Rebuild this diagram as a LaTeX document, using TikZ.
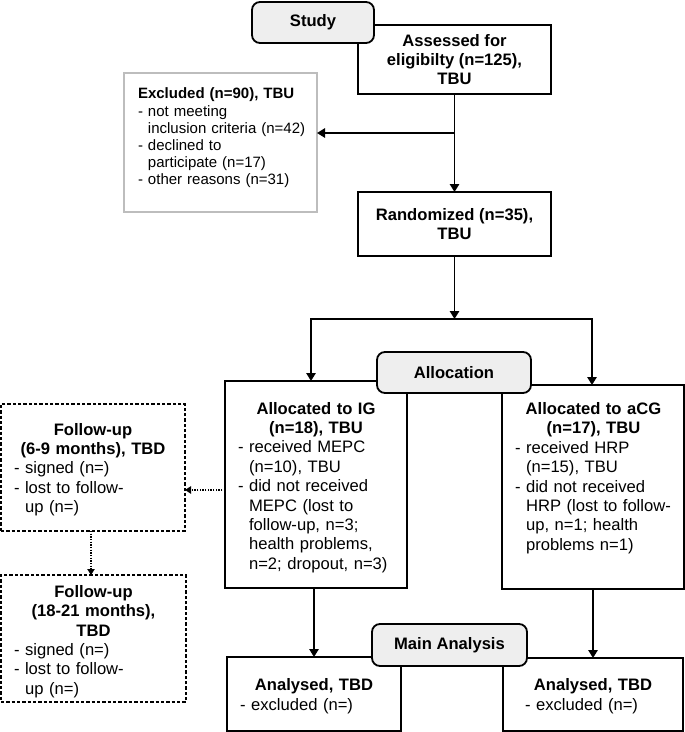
\documentclass[tikz,border=0pt]{standalone}
\usepackage{fontspec}
\setmainfont{Liberation Sans}
\usetikzlibrary{arrows.meta,positioning}
\definecolor{phasegray}{HTML}{EEEEEE}
\definecolor{softgray}{HTML}{BDBDBD}
\newcommand{\cont}{\hphantom{- }}

\begin{document}
\begin{tikzpicture}[x=0.75pt,y=-0.75pt]
    % Styles
    \tikzset{box/.style={draw, line width=1.35pt, inner sep=0pt, outer sep=0pt, align=center, font=\fontsize{12.45}{14.55}\selectfont\bfseries}}
    \tikzstyle{phase}=[box, fill=phasegray, rounded corners=6pt]
    \tikzstyle{exbox}=[box, draw=softgray]
    \tikzstyle{fubox}=[box, line width=1.2pt, dash pattern=on 2.5pt off 1.5pt]
    \tikzstyle{txt}=[inner sep=0pt, outer sep=0pt, anchor=base west, align=left, font=\fontsize{12.45}{14.55}\selectfont]
    \tikzstyle{flow}=[-{Triangle[length=6pt,width=7pt]}, line width=1.35pt]
    \tikzstyle{dotflow}=[-{Triangle[length=4.5pt,width=5.5pt]}, line width=1pt, densely dotted]

    \useasboundingbox (0,0) rectangle (685,732);

    % Enrollment
    \node[box, minimum width=144.75pt, minimum height=51.75pt] (assess) at (454.5,59.5) {Assessed for\\eligibilty (n=125),\\TBU};
    \node[phase, minimum width=91.5pt, minimum height=30.75pt] (study) at (313,22.5) {Study};
    \node[exbox, minimum width=144.75pt, minimum height=104.25pt] (excl) at (220.5,142.5) {};
    \node[box, minimum width=144.75pt, minimum height=48pt] (rand) at (454.5,224) {Randomized (n=35),\\TBU};

    \node[txt, text width=127.5pt, font=\fontsize{11.25}{12.9}\selectfont] (excltext) at (138,98.8) {{\bfseries Excluded (n=90), TBU\par}- not meeting\\\cont inclusion criteria (n=42)\\- declined to\\\cont participate (n=17)\\- other reasons (n=31)};

    % Allocation
    \node[box, minimum width=136.5pt, minimum height=155.25pt] (ig) at (316,484.5) {};
    \node[box, minimum width=136.5pt, minimum height=153pt] (acg) at (593,487) {};
    \node[phase, minimum width=115.5pt, minimum height=30.75pt] (alloc) at (454,372.5) {Allocation};

    \node[txt, text width=117pt] (igtext) at (238,414) {{\centering\bfseries Allocated to IG\\(n=18), TBU\par}- received MEPC\\\cont (n=10), TBU\\- did not received\\\cont MEPC (lost to\\\cont follow-up, n=3;\\\cont health problems,\\\cont n=2; dropout, n=3)};
    \node[txt, text width=117.75pt] (acgtext) at (515,414.5) {{\centering\bfseries Allocated to aCG\\(n=17), TBU\par}- received HRP\\\cont (n=15), TBU\\- did not received\\\cont HRP (lost to follow-\\\cont up, n=1; health\\\cont problems n=1)};

    % Follow-up
    \node[fubox, minimum width=138pt, minimum height=95.25pt] (fu1) at (93,467.5) {};
    \node[fubox, minimum width=138.75pt, minimum height=95.25pt] (fu2) at (93.5,638.5) {};
    \node[txt, text width=118.5pt] (fu1text) at (14,435) {{\centering\bfseries Follow-up\\(6-9 months), TBD\par}- signed (n=)\\- lost to follow-\\\cont up (n=)};
    \node[txt, text width=119.25pt] (fu2text) at (14,597.3) {{\centering\bfseries Follow-up\\(18-21 months),\\TBD\par}- signed (n=)\\- lost to follow-\\\cont up (n=)};

    % Analysis
    \node[box, minimum width=130.5pt, minimum height=55.5pt] (anig) at (314,694) {};
    \node[box, minimum width=135pt, minimum height=54.75pt] (anacg) at (593,694.5) {};
    \node[phase, minimum width=116.25pt, minimum height=31.5pt] (main) at (449.5,645) {Main Analysis};
    \node[txt, text width=111pt] (anigtext) at (240,690.7) {{\centering\bfseries Analysed, TBD\par}- excluded (n=)};
    \node[txt, text width=102pt] (anacgtext) at (525,690.7) {{\centering\bfseries Analysed, TBD\par}- excluded (n=)};

    % Connectors
    \coordinate (split) at (454.5,133);
    \coordinate (fork) at (454.5,319);
    \draw[flow] (assess.south) -- (rand.north);
    \draw[flow] (split) -- (split -| excl.east);
    \draw[flow] (rand.south) -- (fork);
    \draw[flow] (fork) -| ([xshift=-3.75pt]ig.north);
    \draw[flow] (fork) -| ([xshift=-0.75pt]acg.north);
    \draw[flow] (anig.north |- ig.south) -- (anig.north);
    \draw[flow] (acg.south) -- (anacg.north);
    \draw[dotflow] ([yshift=-4.1pt]ig.west) -- ([yshift=-4.1pt]ig.west -| fu1.east);
    \draw[dotflow] ([xshift=-1.5pt]fu1.south) -- ([xshift=-1.5pt]fu1.south |- fu2.north);
\end{tikzpicture}
\end{document}
